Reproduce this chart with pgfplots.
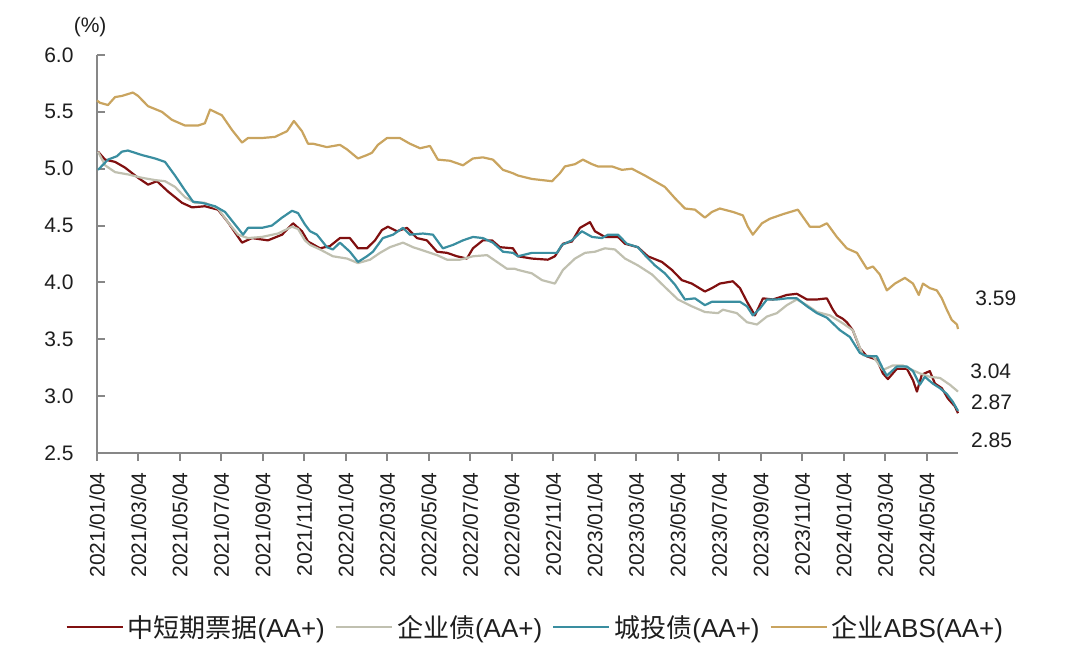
\documentclass[border=0pt]{standalone}
\usepackage{fontspec}
\setmainfont{Liberation Sans}
\newfontfamily\cjk{Noto Sans CJK SC}
\usepackage{pgfplots}
\pgfplotsset{compat=1.18}
\definecolor{cRed}{RGB}{128,16,16}
\definecolor{cGray}{RGB}{192,192,176}
\definecolor{cTeal}{RGB}{58,142,160}
\definecolor{cGold}{RGB}{201,164,95}
\definecolor{axgray}{RGB}{135,135,135}
\definecolor{txt}{RGB}{30,30,30}
\begin{document}
\begin{tikzpicture}
\path[use as bounding box] (0,0) rectangle (1066pt,659pt);
\begin{axis}[
  at={(97pt,206pt)}, anchor=south west,
  scale only axis, width=861pt, height=398pt,
  xmin=0, xmax=41.5, ymin=2.5, ymax=6.0,
  axis x line*=bottom, axis y line*=left,
  axis line style={-, draw=axgray, line width=2pt},
  every tick/.style={draw=axgray, line width=2pt},
  major tick length=8pt,
  xtick align=outside, ytick align=inside,
  xtick={0,2,...,40},
  xticklabels={2021/01/04,2021/03/04,2021/05/04,2021/07/04,2021/09/04,2021/11/04,2022/01/04,2022/03/04,2022/05/04,2022/07/04,2022/09/04,2022/11/04,2023/01/04,2023/03/04,2023/05/04,2023/07/04,2023/09/04,2023/11/04,2024/01/04,2024/03/04,2024/05/04},
  ytick={2.5,3.0,...,6.0},
  /pgf/number format/fixed, /pgf/number format/fixed zerofill, /pgf/number format/precision=1, /pgf/number format/assume math mode=true,
  tick label style={font=\fontsize{21}{24}\selectfont, color=txt},
  xticklabel style={rotate=90, anchor=east},
  xticklabel shift=8pt,
  yticklabel shift=20pt,
  clip=false,
  legend columns=4,
  legend style={draw=none, fill=none, at={(0.509,-0.437)}, anchor=center,
    font=\fontsize{26}{29}\selectfont, text=txt,
    /tikz/every odd column/.append style={column sep=2pt},
    /tikz/every even column/.append style={column sep=8pt}},
  legend image code/.code={\draw[#1] (0pt,0pt) -- (56pt,0pt);},
  every axis plot/.append style={line width=2.2pt, line join=round},
]
\addplot[cRed] coordinates {
(0.05,5.15) (0.39,5.08) (0.87,5.06) (1.35,5.01) (1.98,4.92) (2.46,4.86) (2.89,4.89) (3.42,4.80) (4.10,4.70) (4.58,4.66) (5.20,4.67) (5.83,4.64) (6.31,4.53) (6.99,4.35) (7.47,4.39) (8.24,4.37) (8.92,4.42) (9.45,4.52) (9.88,4.45) (10.17,4.36)
(10.75,4.30) (11.23,4.32) (11.71,4.39) (12.19,4.39) (12.58,4.30) (13.01,4.30) (13.40,4.37) (13.73,4.46) (14.02,4.49) (14.46,4.45) (14.94,4.48) (15.42,4.39) (15.90,4.37) (16.39,4.27) (16.87,4.26) (17.35,4.23) (17.83,4.21) (18.12,4.30) (18.60,4.37) (19.04,4.37) (19.42,4.31) (20.05,4.30)
(20.29,4.23) (20.96,4.21) (21.73,4.20) (22.07,4.23) (22.46,4.34) (22.89,4.36) (23.28,4.48) (23.76,4.53) (24.00,4.45) (24.48,4.40) (25.11,4.40) (25.45,4.34) (26.07,4.31) (26.55,4.23) (27.23,4.18) (27.71,4.11) (28.19,4.02) (28.67,3.99) (29.30,3.92) (29.64,3.95) (30.02,3.99)
(30.65,4.01) (30.99,3.95) (31.33,3.83) (31.71,3.71) (32.10,3.86) (32.58,3.85) (33.25,3.89) (33.73,3.90) (34.22,3.85) (34.70,3.85) (35.18,3.86) (35.47,3.76) (35.66,3.71) (35.95,3.68) (36.14,3.65) (36.43,3.58) (36.77,3.42) (37.11,3.35) (37.59,3.32) (37.88,3.20) (38.12,3.15) (38.55,3.24) (39.04,3.24) (39.33,3.14) (39.52,3.04) (39.76,3.19) (40.14,3.22) (40.39,3.11) (40.72,3.07) (41.01,2.98) (41.35,2.91) (41.5,2.85)
};
\addlegendentry{{\cjk 中短期票据}(AA+)}
\addplot[cGray] coordinates {
(0.05,5.15) (0.39,5.03) (0.87,4.97) (1.49,4.95) (2.17,4.92) (2.80,4.90) (3.28,4.89) (3.76,4.84) (4.24,4.75) (4.72,4.70) (5.20,4.70) (5.83,4.65) (6.31,4.53) (6.80,4.42) (7.28,4.39) (7.95,4.40) (8.72,4.43) (9.40,4.49) (9.69,4.47) (10.02,4.37) (10.27,4.33)
(10.75,4.29) (11.37,4.23) (12.05,4.21) (12.58,4.17) (13.16,4.20) (13.64,4.26) (14.12,4.31) (14.75,4.35) (15.23,4.31) (15.90,4.27) (16.39,4.24) (16.87,4.20) (17.49,4.20) (18.12,4.23) (18.80,4.24) (19.28,4.18) (19.76,4.12) (20.14,4.12)
(20.29,4.11) (20.96,4.08) (21.45,4.02) (22.07,3.99) (22.46,4.11) (23.04,4.21) (23.52,4.26) (24.00,4.27) (24.48,4.30) (24.96,4.29) (25.45,4.21) (26.07,4.15) (26.75,4.07) (27.37,3.96) (28.00,3.85) (28.67,3.79) (29.30,3.74) (29.93,3.73)
(30.17,3.76) (30.84,3.73) (31.33,3.65) (31.81,3.63) (32.29,3.70) (32.77,3.73) (33.25,3.80) (33.73,3.85) (34.22,3.80) (34.70,3.74) (35.33,3.71) (35.95,3.64) (36.43,3.58) (36.92,3.36) (37.40,3.35) (37.88,3.23) (38.36,3.27) (38.84,3.27) (39.18,3.24) (39.66,3.20) (40.14,3.17) (40.63,3.16) (41.11,3.10) (41.5,3.04)
};
\addlegendentry{{\cjk 企业债}(AA+)}
\addplot[cTeal] coordinates {
(0.05,4.99) (0.53,5.08) (0.96,5.11) (1.20,5.15) (1.49,5.16) (2.17,5.12) (2.80,5.09) (3.28,5.06) (3.76,4.94) (4.24,4.81) (4.63,4.71) (5.06,4.70) (5.69,4.67) (6.17,4.62) (6.65,4.51) (7.04,4.42) (7.28,4.48) (7.95,4.48) (8.43,4.50) (8.92,4.57) (9.40,4.63) (9.69,4.61) (10.02,4.51) (10.27,4.45)
(10.60,4.42) (11.08,4.31) (11.37,4.29) (11.71,4.35) (12.19,4.27) (12.58,4.18) (13.01,4.23) (13.30,4.27) (13.78,4.39) (14.27,4.42) (14.75,4.48) (15.08,4.42) (15.71,4.43) (16.19,4.42) (16.67,4.30) (17.16,4.33) (17.64,4.37) (18.12,4.40) (18.60,4.39) (19.08,4.35) (19.57,4.27) (20.05,4.26)
(20.29,4.23) (20.96,4.26) (21.59,4.26) (22.17,4.26) (22.41,4.33) (22.89,4.37) (23.37,4.45) (23.86,4.40) (24.34,4.39) (24.63,4.42) (25.11,4.42) (25.54,4.34) (26.07,4.31) (26.41,4.24) (26.89,4.15) (27.37,4.08) (27.86,3.98) (28.34,3.85) (28.82,3.86) (29.30,3.80) (29.64,3.83) (30.02,3.83)
(30.51,3.83) (30.99,3.83) (31.33,3.79) (31.61,3.71) (31.95,3.77) (32.29,3.85) (32.77,3.85) (33.25,3.86) (33.73,3.86) (34.22,3.79) (34.70,3.73) (35.18,3.69) (35.81,3.58) (36.29,3.52) (36.77,3.38) (37.11,3.35) (37.59,3.35) (37.88,3.24) (38.07,3.18) (38.55,3.26) (39.04,3.26) (39.33,3.22) (39.66,3.10) (39.90,3.17) (40.29,3.11) (40.63,3.07) (40.96,3.02) (41.25,2.95) (41.5,2.87)
};
\addlegendentry{{\cjk 城投债}(AA+)}
\addplot[cGold] coordinates {
(0,5.60) (0.14,5.58) (0.53,5.56) (0.87,5.63) (1.20,5.64) (1.73,5.67) (1.98,5.64) (2.46,5.55) (3.13,5.50) (3.61,5.43) (4.24,5.38) (4.87,5.38) (5.20,5.40) (5.45,5.52) (6.02,5.47) (6.51,5.34) (6.99,5.23) (7.28,5.27) (7.95,5.27) (8.58,5.28) (9.16,5.33) (9.49,5.42) (9.88,5.33) (10.17,5.22)
(10.41,5.22) (11.08,5.19) (11.71,5.21) (12.05,5.17) (12.58,5.09) (13.01,5.12) (13.25,5.14) (13.54,5.21) (13.98,5.27) (14.60,5.27) (15.08,5.22) (15.57,5.18) (16.05,5.20) (16.43,5.08) (17.01,5.07) (17.64,5.03) (18.12,5.09) (18.60,5.10) (19.08,5.08) (19.57,4.99) (20.05,4.96)
(20.29,4.94) (20.96,4.91) (21.93,4.89) (22.31,4.96) (22.55,5.02) (23.04,5.04) (23.42,5.08) (23.86,5.04) (24.14,5.02) (24.82,5.02) (25.30,4.99) (25.78,5.00) (26.41,4.94) (26.89,4.89) (27.37,4.84) (27.86,4.74) (28.34,4.65) (28.82,4.64) (29.30,4.57) (29.64,4.62) (30.02,4.65)
(30.65,4.62) (31.13,4.59) (31.37,4.49) (31.61,4.42) (32.05,4.52) (32.43,4.56) (33.06,4.60) (33.78,4.64) (34.36,4.49) (34.84,4.49) (35.18,4.52) (35.66,4.40) (36.14,4.30) (36.63,4.26) (37.11,4.12) (37.40,4.14) (37.73,4.07) (38.07,3.93) (38.46,3.99) (38.94,4.04) (39.33,3.99) (39.61,3.89) (39.81,3.99) (40.14,3.95) (40.48,3.93) (40.72,3.86) (40.96,3.76) (41.20,3.67) (41.45,3.63) (41.5,3.59)
};
\addlegendentry{{\cjk 企业}ABS(AA+)}
\node[font=\fontsize{21}{24}\selectfont, text=txt] at (rel axis cs:-0.008,1.07) {(\%)};
\node[font=\fontsize{21}{24}\selectfont, text=txt] at (rel axis cs:1.044,0.389) {3.59};
\node[font=\fontsize{21}{24}\selectfont, text=txt] at (rel axis cs:1.038,0.206) {3.04};
\node[font=\fontsize{21}{24}\selectfont, text=txt] at (rel axis cs:1.039,0.128) {2.87};
\node[font=\fontsize{21}{24}\selectfont, text=txt] at (rel axis cs:1.039,0.033) {2.85};
\end{axis}
\end{tikzpicture}
\end{document}
